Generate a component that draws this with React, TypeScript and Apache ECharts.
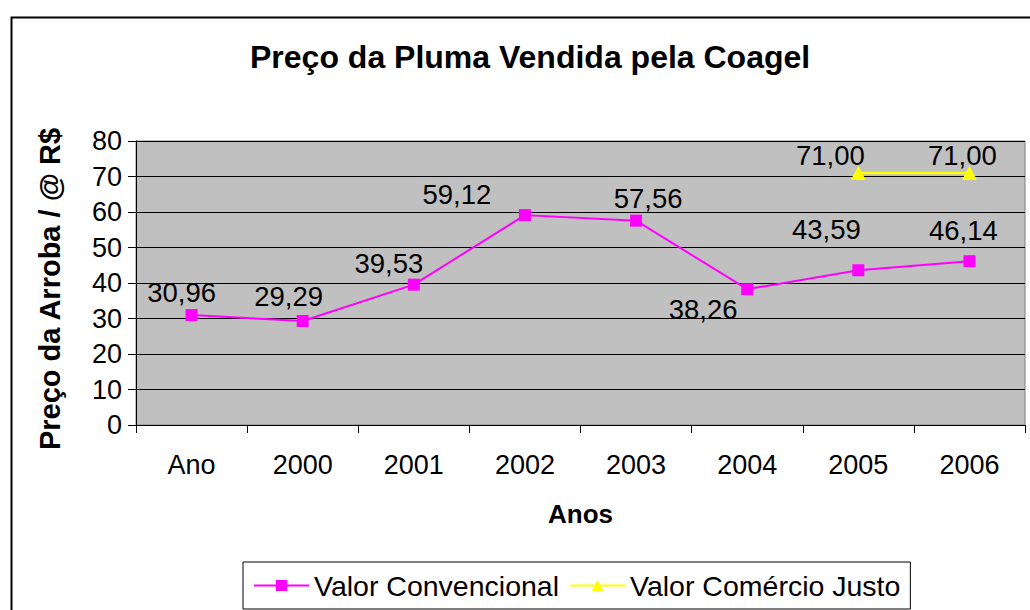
import React, { useEffect, useRef } from "react";
import * as echarts from "echarts";

const categories = ["Ano", "2000", "2001", "2002", "2003", "2004", "2005", "2006"];
const valorConvencional = [30.96, 29.29, 39.53, 59.12, 57.56, 38.26, 43.59, 46.14];
const valorComercioJusto = [null, null, null, null, null, null, 71.0, 71.0];
const yTicks = { min: 0, max: 80, interval: 10 };

// label placement offsets (layout only)
const convLabelOffsets = [
  [-10, -23], [-14, -25], [-25, -21], [-68, -21], [12, -22], [-44, 20], [-32, -41], [-6, -31],
];
const justoLabelOffsets = [
  [0, 0], [0, 0], [0, 0], [0, 0], [0, 0], [0, 0], [-28, -17], [-7, -17],
];

const FONT = "'Liberation Sans', Arial, sans-serif";

const fmt = (v: number) => v.toFixed(2).replace(".", ",");

export default function App() {
  const ref = useRef<HTMLDivElement>(null);
  useEffect(() => {
    if (!ref.current) return;
    const chart = echarts.init(ref.current, null, { renderer: "svg" });
    const labelStyle = {
      show: true,
      position: "inside",
      color: "#000",
      fontSize: 27.5,
      fontFamily: FONT,
      formatter: (p: any) => fmt(p.value),
    };
    chart.setOption({
      animation: false,
      backgroundColor: "#fff",
      textStyle: { fontFamily: FONT },
      title: {
        text: "Preço da Pluma Vendida pela Coagel",
        left: 245,
        top: 36,
        textStyle: { fontSize: 32, fontWeight: "bold", color: "#000", fontFamily: FONT },
      },
      grid: {
        left: 136,
        right: 5,
        top: 141,
        bottom: 185,
        show: true,
        backgroundColor: "#C0C0C0",
        borderColor: "#808080",
        borderWidth: 1,
      },
      legend: {
        left: 243,
        top: 562,
        padding: [9, 10, 9, 10],
        borderColor: "#000",
        borderWidth: 1,
        itemWidth: 55,
        itemHeight: 14,
        itemGap: 10,
        textStyle: { fontSize: 28.5, color: "#000", fontFamily: FONT },
        data: ["Valor Convencional", "Valor Comércio Justo"],
      },
      xAxis: {
        type: "category",
        data: categories,
        boundaryGap: true,
        name: "Anos",
        nameLocation: "middle",
        nameGap: 76,
        nameTextStyle: { fontSize: 26, fontWeight: "bold", color: "#000", fontFamily: FONT },
        axisLine: { show: true, lineStyle: { color: "#000", width: 1 } },
        axisTick: { show: true, length: 8, alignWithLabel: false, lineStyle: { color: "#000" } },
        axisLabel: { fontSize: 27, color: "#000", margin: 26, interval: 0, fontFamily: FONT },
        splitLine: { show: false },
      },
      yAxis: {
        type: "value",
        min: yTicks.min,
        max: yTicks.max,
        interval: yTicks.interval,
        name: "Preço da Arroba / @ R$",
        nameLocation: "middle",
        nameGap: 72,
        nameTextStyle: {
          fontSize: 29,
          fontWeight: "bold",
          color: "#000",
          fontFamily: FONT,
          padding: [0, 12, 0, 0],
        },
        axisLine: { show: true, lineStyle: { color: "#000", width: 1 } },
        axisTick: { show: true, length: 8, lineStyle: { color: "#000" } },
        axisLabel: { fontSize: 27, color: "#000", margin: 14, fontFamily: FONT },
        splitLine: { show: true, lineStyle: { color: "#000", width: 1 } },
      },
      series: [
        {
          name: "Valor Convencional",
          type: "line",
          data: valorConvencional.map((v, i) => ({
            value: v,
            label: { offset: convLabelOffsets[i] },
          })),
          symbol: "rect",
          symbolSize: 12,
          itemStyle: { color: "#FF00FF" },
          lineStyle: { color: "#FF00FF", width: 2 },
          label: labelStyle,
          z: 3,
        },
        {
          name: "Valor Comércio Justo",
          type: "line",
          data: valorComercioJusto.map((v, i) => ({
            value: v,
            label: { offset: justoLabelOffsets[i] },
          })),
          symbol: "triangle",
          symbolSize: [15, 14],
          itemStyle: { color: "#FFFF00" },
          lineStyle: { color: "#FFFF00", width: 2.5 },
          label: labelStyle,
          z: 3,
        },
      ],
      graphic: [
        {
          type: "rect",
          left: 9,
          top: 15,
          shape: { x: 0, y: 0, width: 1040, height: 620 },
          style: { fill: "none", stroke: "#000", lineWidth: 2 },
          silent: true,
        },
      ],
    });
    return () => chart.dispose();
  }, []);
  return (
    <div
      ref={ref}
      style={{ position: "absolute", left: 0, top: 0, width: 1030, height: 610 }}
    />
  );
}
